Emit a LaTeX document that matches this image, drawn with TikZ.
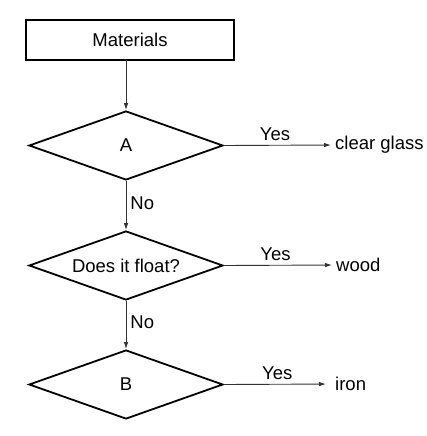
\documentclass[tikz,border=0pt]{standalone}
\usepackage{fontspec}
\setmainfont{Liberation Sans}
\usetikzlibrary{arrows.meta,shapes.geometric}
\begin{document}
\begin{tikzpicture}[x=1pt,y=-1pt,
  every node/.style={font=\fontsize{18.5}{21}\selectfont, inner sep=0pt},
  boxnode/.style={draw, line width=1.8pt, minimum width=208pt, minimum height=40pt},
  decision/.style={draw, line width=1.8pt, diamond, aspect=2.81, minimum width=194pt, minimum height=69pt, inner sep=0pt},
  conn/.style={line width=0.9pt, draw=black!80, -{Latex[length=7pt,width=4.5pt]}},
  lbl/.style={anchor=west}]
\useasboundingbox (0,0) rectangle (427,436);
\node[boxnode] (mat) at (130,40) {Materials};
\node[decision] (A) at (126,145.5) {A};
\node[decision] (F) at (126,265.5) {Does it float?};
\node[decision] (B) at (126,384.5) {B};
\node[lbl] (glass) at (335,145) {clear glass};
\node[lbl] (wood) at (336,265) {wood};
\node[lbl] (iron) at (335,384) {iron};
\coordinate (mA) at (126,60);
\draw[conn] (mA) -- (A.north);
\draw[conn] (A.south) -- node[right=4pt, pos=0.45] (no1) {No} (F.north);
\draw[conn] (F.south) -- node[right=4pt, pos=0.45] (no2) {No} (B.north);
\draw[conn, shorten >=4pt] (A.east) -- node[above=4pt, pos=0.46] (y1) {Yes} (glass.west);
\draw[conn, shorten >=4pt] (F.east) -- node[above=4pt, pos=0.46] (y2) {Yes} (wood.west);
\draw[conn, shorten >=9pt] (B.east) -- node[above=4pt, pos=0.48] (y3) {Yes} (iron.west);
\end{tikzpicture}
\end{document}
